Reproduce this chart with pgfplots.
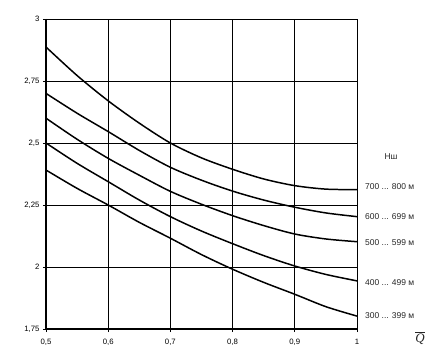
\documentclass[border=0pt]{standalone}
\usepackage{pgfplots}
\pgfplotsset{compat=1.18}
\usepackage{fontspec}
\setmainfont{Liberation Sans}
\newfontfamily\serifit{Liberation Serif}
\begin{document}
\begin{tikzpicture}
\path[use as bounding box] (0,0) rectangle (434bp,360bp);
\begin{axis}[
  at={(46bp,31bp)}, anchor=south west,
  scale only axis, width=311bp, height=310bp,
  xmin=0.5, xmax=1, ymin=1.75, ymax=3,
  xtick={0.5,0.6,0.7,0.8,0.9,1},
  ytick={1.75,2,2.25,2.5,2.75,3},
  grid=major, major grid style={black, line width=0.8pt},
  axis line style={black, line width=0.8pt},
  tick style={black, line width=0.8pt},
  major tick length=3bp,
  tick align=outside,
  xtick pos=bottom, ytick pos=left,
  /pgf/number format/assume math mode=true,
  /pgf/number format/use comma,
  ticklabel style={font=\fontsize{7.8}{9}\selectfont},
  xticklabel style={yshift=-4bp},
  clip=false,
]
\addplot[black, line width=1.5pt, smooth] coordinates {
(0.5,2.887) (0.55,2.772) (0.6,2.670) (0.65,2.58) (0.7,2.50) (0.75,2.44) (0.8,2.394) (0.85,2.355) (0.9,2.328) (0.95,2.314) (1.0,2.312)};
\addplot[black, line width=1.5pt, smooth] coordinates {
(0.5,2.70) (0.55,2.62) (0.6,2.546) (0.65,2.47) (0.7,2.402) (0.75,2.35) (0.8,2.306) (0.85,2.27) (0.9,2.241) (0.95,2.218) (1.0,2.203)};
\addplot[black, line width=1.5pt, smooth] coordinates {
(0.5,2.60) (0.55,2.515) (0.6,2.438) (0.65,2.37) (0.7,2.305) (0.75,2.253) (0.8,2.207) (0.85,2.167) (0.9,2.133) (0.95,2.113) (1.0,2.102)};
\addplot[black, line width=1.5pt, smooth] coordinates {
(0.5,2.50) (0.55,2.418) (0.6,2.344) (0.65,2.27) (0.7,2.203) (0.75,2.145) (0.8,2.094) (0.85,2.046) (0.9,2.004) (0.95,1.97) (1.0,1.944)};
\addplot[black, line width=1.5pt, smooth] coordinates {
(0.5,2.391) (0.55,2.317) (0.6,2.25) (0.65,2.18) (0.7,2.116) (0.75,2.05) (0.8,1.991) (0.85,1.938) (0.9,1.890) (0.95,1.84) (1.0,1.802)};
\draw[black, line width=1.8pt] (rel axis cs:0,1) -- (rel axis cs:0,0) -- (rel axis cs:1,0);
\end{axis}
\begin{scope}[every node/.style={font=\fontsize{8.5}{10}\selectfont, inner sep=0pt, text=black!85}]
\node at (391bp,203bp) {Нш};
\node[anchor=west] at (365bp,173bp) {700 ... 800 м};
\node[anchor=west] at (365bp,143bp) {600 ... 699 м};
\node[anchor=west] at (365bp,117bp) {500 ... 599 м};
\node[anchor=west] at (365bp,77bp) {400 ... 499 м};
\node[anchor=west] at (365bp,44bp) {300 ... 399 м};
\node[inner sep=0pt] at (420bp,22bp) {\fontsize{13}{15}\selectfont $\overline{\mbox{\serifit\itshape Q}}$};
\end{scope}
\end{tikzpicture}
\end{document}
